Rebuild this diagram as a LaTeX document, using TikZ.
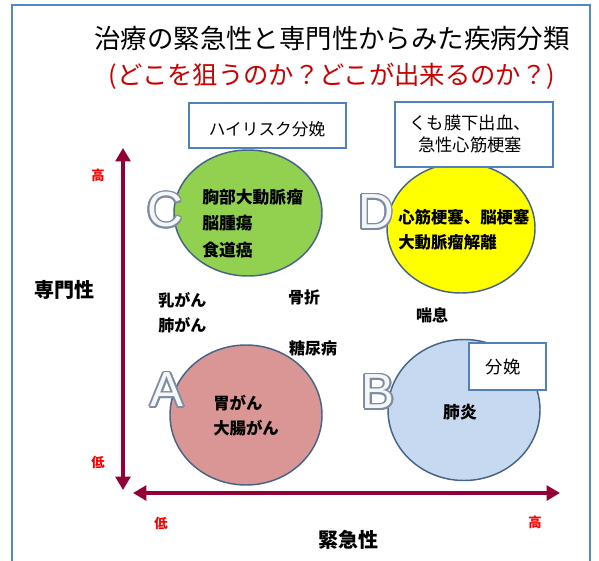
\documentclass[tikz,border=0pt]{standalone}
\usepackage{fontspec}
\setmainfont{Noto Sans CJK JP}
\newfontfamily\latinsans{Liberation Sans}
\usetikzlibrary{arrows.meta,shapes.geometric}
\definecolor{framec}{RGB}{84,134,204}
\definecolor{boxc}{RGB}{79,129,189}
\definecolor{axisc}{RGB}{145,0,55}
\definecolor{titlered}{RGB}{204,0,0}
\definecolor{labred}{RGB}{255,0,0}
\definecolor{circedge}{RGB}{70,100,135}
\definecolor{cgreen}{RGB}{146,208,80}
\definecolor{cyellow}{RGB}{255,255,0}
\definecolor{cred}{RGB}{217,150,148}
\definecolor{cblue}{RGB}{198,217,241}
\definecolor{letgray}{RGB}{125,140,160}
\definecolor{letfill}{RGB}{245,246,248}
\tikzset{
  bubble/.style={ellipse, draw=circedge, line width=1.1pt, inner sep=0pt},
  infobox/.style={rectangle, draw=boxc, line width=1.1pt, fill=white, inner sep=0pt, font=\fontsize{12.5pt}{16.5pt}\selectfont, align=center},
  intext/.style={font=\bfseries\fontsize{12.6pt}{19pt}\selectfont, align=left, anchor=west, inner sep=0pt},
  lab/.style={font=\bfseries\fontsize{12pt}{18.75pt}\selectfont, align=left, inner sep=0pt},
  redlab/.style={font=\bfseries\fontsize{10pt}{12pt}\selectfont, text=labred, inner sep=0pt},
  axislab/.style={font=\bfseries\fontsize{15pt}{18pt}\selectfont, inner sep=0pt},
  letter/.style={font=\latinsans\fontsize{37pt}{40pt}\selectfont, inner sep=0pt}
}
% one copy of a letter shifted by (#1,#2), taking no width
\newcommand\olcopy[3]{\makebox[0pt][l]{\hspace*{#1}\raisebox{#2}{\textcolor{letgray}{#3}}}}
% outlined letter: gray copies around, light fill on top
\newcommand\outlined[1]{%
  \olcopy{1.3pt}{0pt}{#1}\olcopy{1.13pt}{0.65pt}{#1}\olcopy{0.65pt}{1.13pt}{#1}%
  \olcopy{0pt}{1.3pt}{#1}\olcopy{-0.65pt}{1.13pt}{#1}\olcopy{-1.13pt}{0.65pt}{#1}%
  \olcopy{-1.3pt}{0pt}{#1}\olcopy{-1.13pt}{-0.65pt}{#1}\olcopy{-0.65pt}{-1.13pt}{#1}%
  \olcopy{0pt}{-1.3pt}{#1}\olcopy{0.65pt}{-1.13pt}{#1}\olcopy{1.13pt}{-0.65pt}{#1}%
  \textcolor{letfill}{#1}}
\begin{document}
\begin{tikzpicture}[x=0.75pt,y=-0.75pt]
\useasboundingbox (0,0) rectangle (599,560);
\fill[white] (0,0) rectangle (599,560);
% outer frame
\draw[framec, line width=1.5pt] (12,5) rectangle (590,575);
% title
\node[font=\fontsize{19.8pt}{22pt}\selectfont, inner sep=0pt] (title) at (332,38) {治療の緊急性と専門性からみた疾病分類};
\node[font=\fontsize{19pt}{22pt}\selectfont, text=titlered, inner sep=0pt] (subtitle) at (332,76) {(どこを狙うのか？どこが出来るのか？)};
% axes
\coordinate (vt) at (123,148);
\coordinate (vb) at (123,490);
\coordinate (hl) at (133,493);
\coordinate (hr) at (560,493);
\draw[draw=axisc, line width=3pt, {Triangle[width=11pt,length=10pt]}-{Triangle[width=11pt,length=10pt]}] (vb) -- (vt);
\draw[draw=axisc, line width=3pt, {Triangle[width=11pt,length=10pt]}-{Triangle[width=11pt,length=10pt]}] (hl) -- (hr);
\node[redlab] (yhigh) at (98,175) {高};
\node[redlab] (ylow) at (98,462) {低};
\node[redlab] (xlow) at (161,523) {低};
\node[redlab] (xhigh) at (535,522) {高};
\node[axislab] (yname) at (64,290) {専門性};
\node[axislab] (xname) at (348,540) {緊急性};
% bubbles
\node[bubble, fill=cgreen, minimum width=111pt, minimum height=94.5pt] (cC) at (248,213) {};
\node[bubble, fill=cyellow, minimum width=111pt, minimum height=97.5pt] (cD) at (461,228) {};
\node[bubble, fill=cred, minimum width=114pt, minimum height=105pt] (cA) at (246,415) {};
\node[bubble, fill=cblue, minimum width=114pt, minimum height=105.75pt] (cB) at (464,410) {};
% letters
\node[letter] (lC) at (165,210) {\outlined{C}};
\node[letter] (lD) at (376,212) {\outlined{D}};
\node[letter] (lA) at (167,390) {\outlined{A}};
\node[letter] (lB) at (378,392) {\outlined{B}};
% bubble texts
\node[intext, font=\bfseries\fontsize{12.6pt}{19.9pt}\selectfont] (tC) at (202,223.5) {胸部大動脈瘤\\脳腫瘍\\食道癌};
\node[intext, font=\bfseries\fontsize{12.3pt}{18.75pt}\selectfont] (tD) at (398,229.5) {心筋梗塞、脳梗塞\\大動脈瘤解離};
\node[intext, font=\bfseries\fontsize{12.3pt}{18.75pt}\selectfont] (tA) at (213,415.5) {胃がん\\大腸がん};
\node[lab, font=\bfseries\fontsize{12.6pt}{18pt}\selectfont] (tB) at (460,412) {肺炎};
% free labels
\node[lab, anchor=west] (breast) at (158,312.5) {乳がん\\肺がん};
\node[lab] (fract) at (304,297) {骨折};
\node[lab] (diab) at (313,348) {糖尿病};
\node[lab] (asth) at (432,315) {喘息};
% boxes
\node[infobox, minimum width=117.75pt, minimum height=33.75pt] (bHigh) at (267.5,125.5) {};
\node[infobox, draw=none, fill=none] (bHighT) at (267,129) {ハイリスク分娩};
\node[infobox, minimum width=118.5pt, minimum height=48.75pt] (bSub) at (474,134.5) {};
\node[infobox, draw=none, fill=none, font=\fontsize{13pt}{16.5pt}\selectfont] (bSubT) at (470,134) {くも膜下出血、\\急性心筋梗塞};
\node[infobox, minimum width=57.75pt, minimum height=35.25pt] (bBirth) at (507.5,366.5) {};
\node[infobox, draw=none, fill=none, font=\fontsize{13pt}{16pt}\selectfont] (bBirthT) at (503,367) {分娩};
\end{tikzpicture}
\end{document}
